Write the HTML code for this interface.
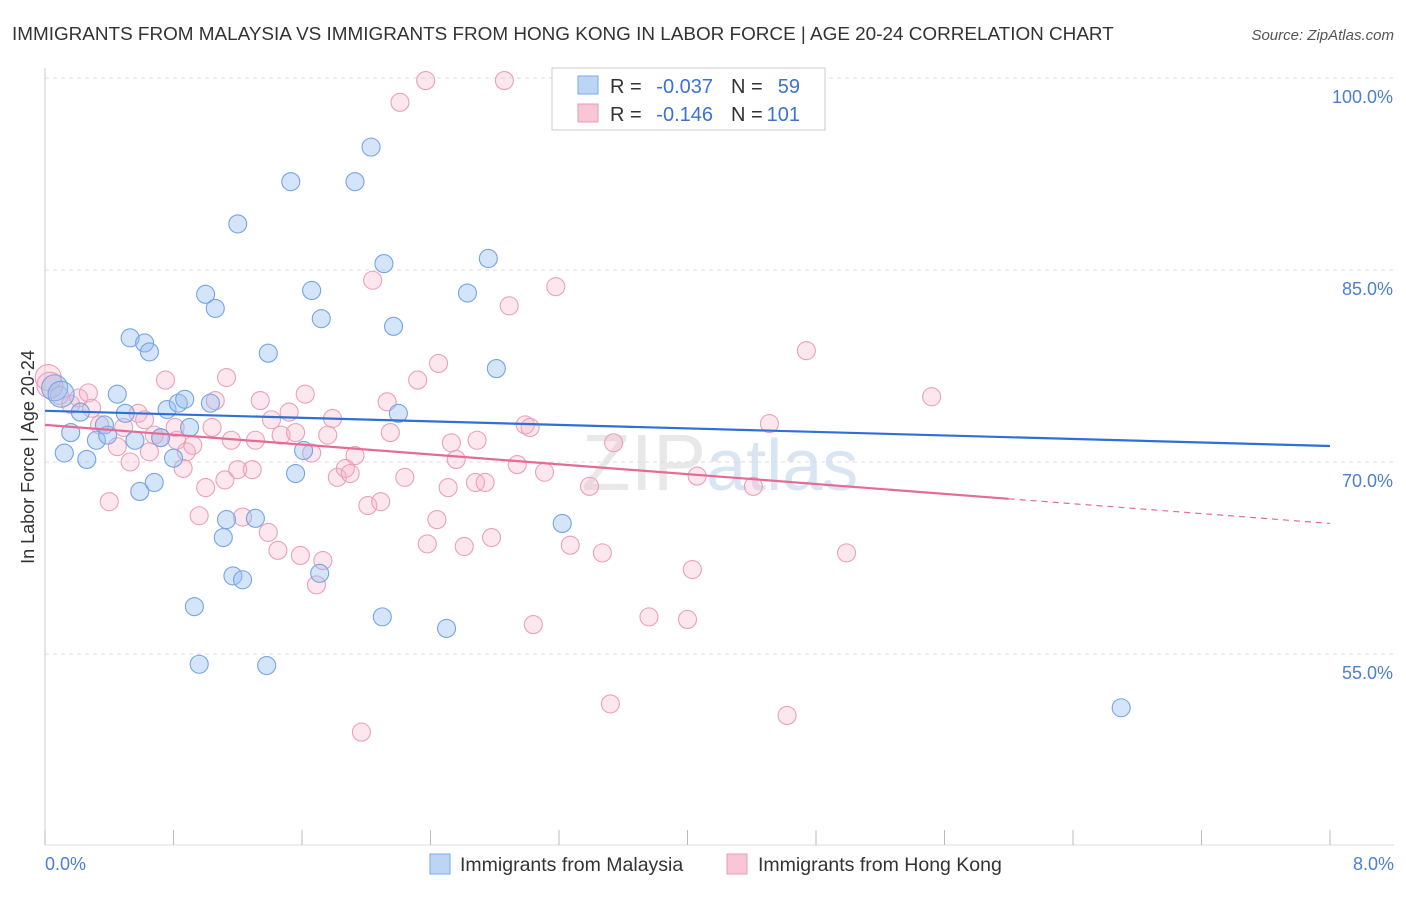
<!DOCTYPE html>
<html><head><meta charset="utf-8"><style>
body{margin:0;background:#fff;font-family:"Liberation Sans",sans-serif;}
svg text{font-family:"Liberation Sans",sans-serif;}
</style></head><body>
<svg id="chart" width="1406" height="892" xmlns="http://www.w3.org/2000/svg">
<text x="12" y="40" font-size="18.9" fill="#333">IMMIGRANTS FROM MALAYSIA VS IMMIGRANTS FROM HONG KONG IN LABOR FORCE | AGE 20-24 CORRELATION CHART</text>
<text x="1394" y="40" font-size="15" fill="#555" font-style="italic" text-anchor="end">Source: ZipAtlas.com</text>
<text x="720" y="490" font-size="80" fill="#e8e8e8" text-anchor="middle" font-family="Liberation Serif">ZIP<tspan fill="#dae5f3" font-family="Liberation Sans" font-size="72">atlas</tspan></text>
<g id="grid"></g>
<g id="axes"></g>
<g id="pts"></g>
<g id="trends"></g>
<text transform="translate(34,457) rotate(-90)" font-size="18" fill="#333" text-anchor="middle">In Labor Force | Age 20-24</text>
<text x="45" y="870" font-size="18" fill="#4a7fd4">0.0%</text>
<text x="1394" y="870" font-size="18" fill="#4a7fd4" text-anchor="end">8.0%</text>
<g>
<rect x="552" y="68" width="273" height="62" fill="#fff" stroke="#ccc"/>
<rect x="578" y="76" width="20" height="18" fill="#bcd5f5" stroke="#7aaae8"/>
<rect x="578" y="104" width="20" height="18" fill="#f9c6d6" stroke="#e899b4"/>
<text x="610" y="93" font-size="20" fill="#333">R =</text>
<text x="713" y="93" font-size="20" fill="#3a73d0" text-anchor="end">-0.037</text>
<text x="731" y="93" font-size="20" fill="#333">N =</text>
<text x="800" y="93" font-size="20" fill="#3a73d0" text-anchor="end">59</text>
<text x="610" y="121" font-size="20" fill="#333">R =</text>
<text x="713" y="121" font-size="20" fill="#3a73d0" text-anchor="end">-0.146</text>
<text x="731" y="121" font-size="20" fill="#333">N =</text>
<text x="800" y="121" font-size="20" fill="#3a73d0" text-anchor="end">101</text>
</g>
<g>
<rect x="430" y="854" width="20" height="20" fill="#bcd5f5" stroke="#7aaae8"/>
<text x="460" y="871" font-size="19.5" fill="#333">Immigrants from Malaysia</text>
<rect x="727" y="854" width="20" height="20" fill="#f9c6d6" stroke="#e899b4"/>
<text x="758" y="871" font-size="19.5" fill="#333">Immigrants from Hong Kong</text>
</g>
</svg>
<script>
const yTicks=[100,85,70,55];
const xTicks=[0,0.8,1.6,2.4,3.2,4.0,4.8,5.6,6.4,7.2,8.0];
const blueX=[0.06,0.1,0.16,0.12,0.26,0.22,0.32,0.37,0.39,0.45,0.50,0.53,0.56,0.59,0.62,0.65,0.68,0.72,0.76,0.80,0.83,0.87,0.90,0.93,0.96,1.00,1.03,1.06,1.11,1.13,1.17,1.20,1.23,1.31,1.38,1.39,1.53,1.56,1.61,1.66,1.71,1.72,1.93,2.03,2.10,2.11,2.17,2.20,2.50,2.63,2.76,2.81,3.22,6.70];
const blueY=[75.8,75.3,72.3,70.7,70.2,73.9,71.7,72.9,72.1,75.3,73.8,79.7,71.7,67.7,79.3,78.6,68.4,71.9,74.1,70.3,74.6,74.9,72.7,58.7,54.2,83.1,74.6,82.0,64.1,65.5,61.1,88.6,60.8,65.6,54.1,78.5,91.9,69.1,70.9,83.4,61.3,81.2,91.9,94.6,57.9,85.5,80.6,73.8,57.0,83.2,85.9,77.3,65.2,50.8];
const pinkX=[0.02,0.03,0.09,0.16,0.21,0.27,0.29,0.34,0.40,0.45,0.49,0.53,0.58,0.62,0.65,0.68,0.72,0.75,0.81,0.82,0.86,0.88,0.92,0.96,1.00,1.04,1.06,1.12,1.13,1.16,1.20,1.23,1.29,1.31,1.34,1.39,1.41,1.45,1.47,1.52,1.56,1.59,1.62,1.66,1.69,1.73,1.76,1.79,1.82,1.87,1.90,1.93,1.97,2.01,2.04,2.09,2.13,2.15,2.21,2.24,2.32,2.37,2.38,2.44,2.45,2.51,2.53,2.56,2.61,2.68,2.69,2.74,2.78,2.86,2.89,2.94,2.99,3.02,3.04,3.11,3.18,3.27,3.39,3.47,3.52,3.54,3.76,4.00,4.03,4.06,4.41,4.51,4.62,4.74,4.99,5.52];
const pinkY=[76.6,76.0,75.2,74.5,75.0,75.4,74.2,72.9,66.9,71.2,72.7,70.0,73.8,73.3,70.8,72.1,71.9,76.4,72.7,71.7,69.5,70.8,71.3,65.8,68.0,72.7,74.8,68.6,76.6,71.7,69.4,65.7,69.4,71.7,74.8,64.5,73.3,63.1,72.1,73.9,72.3,62.7,75.3,70.7,60.4,62.3,72.1,73.4,68.8,69.5,69.1,70.5,48.9,66.6,84.2,66.9,74.7,72.3,98.1,68.8,76.4,99.8,63.6,65.5,77.7,68.0,71.5,70.2,63.4,68.4,71.7,68.4,64.1,99.8,82.2,69.8,72.9,72.7,57.3,69.2,83.7,63.5,68.1,62.9,51.1,71.5,57.9,57.7,61.6,68.9,68.1,73.0,50.2,78.7,62.9,75.1];
const blueTrend=[74.0,71.25];
const pinkTrend=[72.9,65.2];
const pinkSolidEnd=6.0;
const NS='http://www.w3.org/2000/svg';
const X0=45,X1=1330,Y100=78,PXPER=12.8;
const sx=v=>X0+(v/8)*(X1-X0);
const sy=v=>Y100+(100-v)*PXPER;
function mk(tag,attrs,parent){const e=document.createElementNS(NS,tag);for(const k in attrs)e.setAttribute(k,attrs[k]);parent.appendChild(e);return e;}
const grid=document.getElementById('grid'),axes=document.getElementById('axes'),pts=document.getElementById('pts'),tr=document.getElementById('trends');
yTicks.forEach(t=>{
 const l=mk('line',{x1:X0,x2:1394,y1:sy(t),y2:sy(t),stroke:'#ddd','stroke-dasharray':'4,4'},grid);
 
 
 const tx=mk('text',{x:1393,y:sy(t)+25,'font-size':18,fill:'#4a7fd4','text-anchor':'end'},grid);
 tx.textContent=t.toFixed(1)+'%';
 
 
});
const ax=mk('line',{x1:X0,x2:X0,y1:68,y2:845,stroke:'#ccc'},axes);


const bx=mk('line',{x1:X0,x2:1394,y1:845,y2:845,stroke:'#ddd'},axes);


xTicks.forEach(t=>{
 const l=mk('line',{x1:sx(t),x2:sx(t),y1:830,y2:845,stroke:'#bbb'},axes);
 
 
});
function dots(xs,ys,fill,stroke,name){
 xs.forEach((x,i)=>{
  const r=i<2?13:9;
  const c=mk('circle',{cx:sx(x),cy:sy(ys[i]),r:r,fill:fill,stroke:stroke,'stroke-width':1.1},pts);
  
  
 });
}
dots(pinkX,pinkY,'rgba(245,175,200,0.3)','#eaa0ba','hongkong-point');
dots(blueX,blueY,'rgba(150,190,240,0.4)','#74a4e6','malaysia-point');
const b=mk('line',{x1:sx(0),y1:sy(blueTrend[0]),x2:sx(8),y2:sy(blueTrend[1]),stroke:'#2f6fd6','stroke-width':2.2},tr);


const pAt=x=>pinkTrend[0]+(pinkTrend[1]-pinkTrend[0])*x/8;
const p=mk('line',{x1:sx(0),y1:sy(pAt(0)),x2:sx(pinkSolidEnd),y2:sy(pAt(pinkSolidEnd)),stroke:'#e56b97','stroke-width':2.2},tr);


const pd=mk('line',{x1:sx(pinkSolidEnd),y1:sy(pAt(pinkSolidEnd)),x2:sx(8),y2:sy(pAt(8)),stroke:'#e56b97','stroke-width':1.2,'stroke-dasharray':'6,5'},tr);


</script>
</body></html>
